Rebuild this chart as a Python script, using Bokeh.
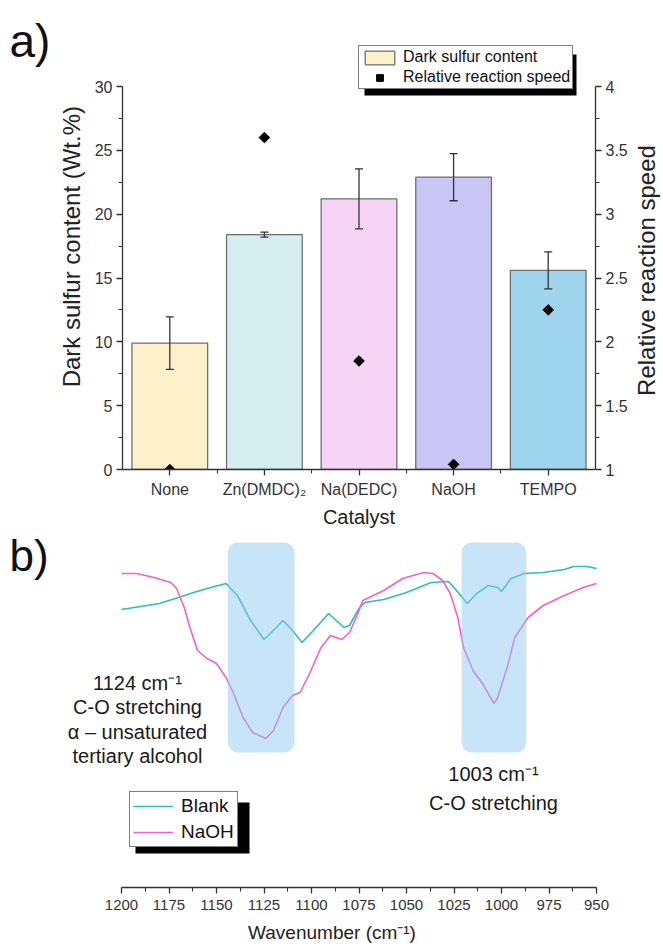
import numpy as np
from bokeh.plotting import figure
from bokeh.models import (Range1d, LinearAxis, FixedTicker, Whisker, TeeHead,
                          ColumnDataSource, Legend, LegendItem, Label, BoxAnnotation)
from bokeh.layouts import column, row
from bokeh.embed import file_html
from bokeh.resources import INLINE

FONT = "Liberation Sans"
NBSP = "\u00a0"

# ---------------- data: panel a ----------------
catalysts = ["None", "Zn(DMDC)\u2082", "Na(DEDC)", "NaOH", "TEMPO"]
dark_sulfur = [9.9, 18.4, 21.2, 22.9, 15.6]
dark_sulfur_err = [2.05, 0.2, 2.35, 1.85, 1.45]
reaction_speed = [1.0, 3.6, 1.85, 1.04, 2.25]
bar_colors = ["#fdf1cc", "#d5eeee", "#f6d4f5", "#c9c6f6", "#9ed5ec"]
sulfur_ticks = [0, 5, 10, 15, 20, 25, 30]
speed_ticks = [1, 1.5, 2, 2.5, 3, 3.5, 4]

# ---------------- data: panel b (FTIR, arbitrary transmittance units) ----------------
wn_blank = [1200, 1180, 1170, 1162, 1153, 1145, 1139, 1132, 1125, 1119,
            1115, 1110, 1105, 1099, 1091, 1083, 1080, 1075, 1072, 1062,
            1050, 1037, 1028, 1025, 1018, 1013, 1007, 1002, 1000, 995,
            988, 978, 967, 962, 955, 950]
t_blank = [191, 197, 203, 208, 213, 217, 205, 180, 161, 172,
           180, 170, 158, 170, 187, 173, 175, 192, 198, 201,
           208, 218, 219, 213, 197, 207, 215, 213, 209, 222,
           227, 228, 231, 234, 234, 232]
wn_naoh = [1200, 1192, 1183, 1174, 1171, 1167, 1164, 1160, 1155, 1150,
           1145, 1141, 1136, 1131, 1124, 1120, 1115, 1110, 1106, 1101,
           1095, 1090, 1084, 1080, 1076, 1073, 1062, 1052, 1041, 1036,
           1031, 1027, 1023, 1020, 1015, 1010, 1007, 1004, 1002, 997,
           993, 986, 978, 967, 957, 950]
t_naoh = [227, 227, 223, 218, 212, 193, 173, 150, 142, 137,
          123, 107, 83, 68, 62, 70, 93, 105, 108, 127,
          153, 165, 161, 168, 185, 200, 210, 222, 228, 227,
          220, 207, 183, 153, 130, 117, 107, 97, 103, 133,
          163, 183, 195, 205, 213, 217]
band_1124 = (1144, 1109)
band_1003 = (1021, 987)
wn_ticks = [1200, 1175, 1150, 1125, 1100, 1075, 1050, 1025, 1000, 975, 950]


def style_axis(ax, label_size="16px", title_size="22px"):
    ax.axis_line_color = "#333333"
    ax.axis_line_width = 1.3
    ax.major_tick_line_color = "#333333"
    ax.major_tick_line_width = 1.3
    ax.minor_tick_line_color = "#333333"
    ax.minor_tick_line_width = 1.1
    ax.major_tick_in = 0
    ax.major_tick_out = 6
    ax.minor_tick_in = 0
    ax.minor_tick_out = 4
    ax.major_label_text_font = FONT
    ax.major_label_text_font_size = label_size
    ax.major_label_text_color = "#333333"
    ax.axis_label_text_font = FONT
    ax.axis_label_text_font_style = "normal"
    ax.axis_label_text_font_size = title_size
    ax.axis_label_text_color = "#222222"


def shadow_box(x, y, w, h, off=6):
    # drop shadow behind a legend box (screen units, relative to the frame)
    return BoxAnnotation(left=x + off, right=x + w + off, bottom=y - off, top=y + h - off,
                         left_units="screen", right_units="screen",
                         bottom_units="screen", top_units="screen",
                         fill_color="black", fill_alpha=1, line_color=None)


def side_canvas(width):
    # narrow canvas whose frame is aligned with panel a's frame
    f = figure(width=width, height=530, x_range=Range1d(0, 1), y_range=Range1d(0, 1),
               output_backend="svg", toolbar_location=None, x_axis_location=None,
               y_axis_location=None, min_border_left=0, min_border_right=0,
               min_border_top=10, min_border_bottom=61)
    f.outline_line_color = None
    f.grid.visible = False
    return f


# ================= panel a =================
x_idx = list(range(len(catalysts)))
src = ColumnDataSource(dict(
    x=x_idx, top=dark_sulfur, color=bar_colors, speed=reaction_speed,
    upper=[v + e for v, e in zip(dark_sulfur, dark_sulfur_err)],
    lower=[v - e for v, e in zip(dark_sulfur, dark_sulfur_err)],
))

# frame spans y 10..469; the sulfur scale 0..30 occupies 86..469
px_per_unit = 383 / 30.0
y_top = 459 / px_per_unit
speed_top = 1 + y_top / 10.0

p1 = figure(width=576, height=530, x_range=Range1d(-0.5, len(catalysts) - 0.5),
            y_range=Range1d(0, y_top), output_backend="svg", toolbar_location=None,
            min_border_left=67, min_border_right=33, min_border_top=10, min_border_bottom=61)
p1.outline_line_color = None
p1.grid.visible = False
p1.extra_y_ranges = {"speed": Range1d(1, speed_top)}

bars = p1.vbar(x="x", top="top", width=0.8, source=src, fill_color="color",
               line_color="#6e6e6e", line_width=1.3)
wh = Whisker(base="x", upper="upper", lower="lower", source=src, dimension="height",
             line_color="#333333", line_width=1.3, level="annotation",
             upper_head=TeeHead(size=8, line_color="#333333", line_width=1.3),
             lower_head=TeeHead(size=8, line_color="#333333", line_width=1.3))
p1.add_layout(wh)
pts = p1.scatter(x="x", y="speed", source=src, y_range_name="speed", marker="square",
                 angle=np.pi / 4, size=7.5, fill_color="black", line_color="black")

xa = p1.xaxis[0]
xa.ticker = FixedTicker(ticks=x_idx, minor_ticks=[i + 0.5 for i in x_idx[:-1]])
xa.major_label_overrides = {i: c for i, c in zip(x_idx, catalysts)}
xa.axis_label = "Catalyst"
style_axis(xa, title_size="20px")
xa.major_label_standoff = 5
xa.axis_label_standoff = 5

ya = p1.yaxis[0]
ya.ticker = FixedTicker(ticks=sulfur_ticks,
                        minor_ticks=[(a + b) / 2 for a, b in zip(sulfur_ticks[:-1], sulfur_ticks[1:])])
ya.bounds = (sulfur_ticks[0], sulfur_ticks[-1])
ya.axis_label = "Dark sulfur content (Wt.%)" + NBSP * 2
style_axis(ya, title_size="24px")
ya.major_label_standoff = 4
ya.axis_label_standoff = 7

ra = LinearAxis(y_range_name="speed",
                ticker=FixedTicker(ticks=speed_ticks,
                                   minor_ticks=[(a + b) / 2 for a, b in zip(speed_ticks[:-1], speed_ticks[1:])]),
                major_label_overrides={t: f"{t:g}" for t in speed_ticks},
                bounds=(speed_ticks[0], speed_ticks[-1]))
style_axis(ra)
ra.major_label_standoff = 4
p1.add_layout(ra, "right")

leg_a = Legend(items=[LegendItem(label="Dark sulfur content", renderers=[bars], index=0),
                      LegendItem(label="Relative reaction speed", renderers=[pts], index=0)],
               location=(236, 380), orientation="vertical",
               glyph_width=37, glyph_height=17, label_height=17, label_standoff=5,
               spacing=2, padding=2, margin=0,
               label_text_font=FONT, label_text_font_size="16px", label_text_color="#111111",
               border_line_color="black", border_line_width=1.2,
               background_fill_color="white", background_fill_alpha=1)
p1.add_layout(shadow_box(236, 380, 212, 41))
p1.add_layout(leg_a)

# left strip: panel letter; right strip: title of the right axis (reads bottom to top)
fa = side_canvas(54)
fa.add_layout(Label(x=9, y=429, x_units="screen", y_units="screen", text="a)",
                    text_font=FONT, text_font_size="46px", text_baseline="middle",
                    text_color="#111111"))
fr = side_canvas(33)
fr.add_layout(Label(x=16, y=199, x_units="screen", y_units="screen", angle=np.pi / 2,
                    text="Relative reaction speed", text_align="center",
                    text_baseline="middle", text_font=FONT, text_font_size="24px",
                    text_color="#222222"))

# ================= panel b =================
wn_per_px = (wn_ticks[0] - wn_ticks[-1]) / 475.0
p2 = figure(width=663, height=419,
            x_range=Range1d(wn_ticks[0] + 121 * wn_per_px, wn_ticks[-1] - 67 * wn_per_px),
            y_range=Range1d(-87, 270),
            output_backend="svg", toolbar_location=None,
            min_border_left=0, min_border_right=0, min_border_top=0, min_border_bottom=62)
p2.outline_line_color = None
p2.grid.visible = False
p2.yaxis.visible = False

l_blank = p2.line(wn_blank, t_blank, line_color="#2cbcc2", line_width=1.6)
l_naoh = p2.line(wn_naoh, t_naoh, line_color="#f460d4", line_width=1.6)

for lo, hi in (band_1124, band_1003):
    p2.add_layout(BoxAnnotation(left=lo, right=hi, bottom=48, top=258,
                                fill_color="#8fcaf2", fill_alpha=0.5,
                                line_color=None, border_radius=10))

xb = p2.xaxis[0]
xb.ticker = FixedTicker(ticks=wn_ticks,
                        minor_ticks=[(a + b) / 2 for a, b in zip(wn_ticks[:-1], wn_ticks[1:])])
xb.bounds = (wn_ticks[-1], wn_ticks[0])
xb.axis_label = "Wavenumber (cm\u207b\u00b9)"
style_axis(xb, label_size="15px", title_size="19px")
xb.axis_line_width = 1.6
xb.major_label_standoff = 6
xb.axis_label_standoff = 9

leg_b = Legend(items=[LegendItem(label="Blank", renderers=[l_blank]),
                      LegendItem(label="NaOH", renderers=[l_naoh])],
               location=(129, 40), orientation="vertical",
               glyph_width=40, glyph_height=20, label_height=20, label_standoff=8,
               spacing=4, padding=3, margin=0,
               label_text_font=FONT, label_text_font_size="19px", label_text_color="#111111",
               border_line_color="black", border_line_width=1.2,
               background_fill_color="white", background_fill_alpha=1)
p2.add_layout(shadow_box(129, 40, 114, 51))
p2.add_layout(leg_b)

ann_left = ["1124 cm\u207b\u00b9", "C-O stretching", "\u03b1 \u2013 unsaturated", "tertiary alcohol"]
for i, t in enumerate(ann_left):
    p2.add_layout(Label(x=137, y=205 - 24.5 * i, x_units="screen", y_units="screen", text=t,
                        text_align="center", text_baseline="middle", text_font=FONT,
                        text_font_size="20px", text_color="#1a1a1a"))
ann_right = ["1003 cm\u207b\u00b9", "C-O stretching"]
for i, t in enumerate(ann_right):
    p2.add_layout(Label(x=493, y=114 - 29 * i, x_units="screen", y_units="screen", text=t,
                        text_align="center", text_baseline="middle", text_font=FONT,
                        text_font_size="20px", text_color="#1a1a1a"))
p2.add_layout(Label(x=9, y=332, x_units="screen", y_units="screen", text="b)",
                    text_font=FONT, text_font_size="44px", text_baseline="middle",
                    text_color="#111111"))

layout = column(row(fa, p1, fr), p2)
with open("out.html", "w") as f:
    f.write(file_html(layout, INLINE))
